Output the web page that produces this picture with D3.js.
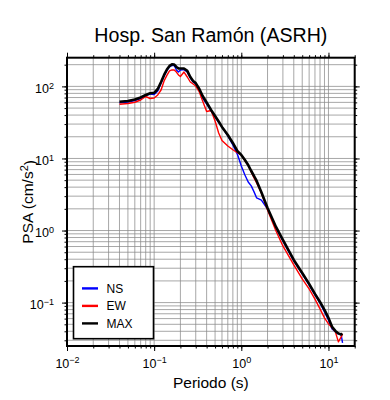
<!DOCTYPE html>
<html>
<head>
<meta charset="utf-8">
<script src="https://cdn.jsdelivr.net/npm/d3@7"></script>
<style>
  body { margin: 0; background: #fff; }
  svg { font-family: "Liberation Sans", Arial, sans-serif; }
</style>
</head>
<body>
<div id="chart"></div>
<script>
var width = 390, height = 400;

// periods (s) and spectral accelerations (cm/s^2)
var periods = [0.04, 0.05, 0.06, 0.07, 0.08, 0.09, 0.10, 0.11, 0.12, 0.13, 0.14, 0.15, 0.16, 0.17, 0.18, 0.19, 0.20,
  0.22, 0.24, 0.26, 0.28, 0.30, 0.33, 0.36, 0.40, 0.45, 0.50, 0.55, 0.60, 0.70, 0.80, 0.90,
  1.0, 1.1, 1.2, 1.3, 1.4, 1.5, 1.7, 2.0, 2.5, 3.0, 4.0, 5.0, 6.0, 7.0, 8.0, 9.0, 10, 11, 12, 13, 14, 14.5];

var ns = [59.4, 60.8, 63.7, 67.9, 73.6, 78.5, 77.2, 86.3, 111, 139, 166, 186, 196, 195, 169, 158, 169,
  171, 158, 131, 115, 108, 89.1, 69.0, 57.0, 45.6, 37.7, 31.6, 27.4, 20.5, 15.4, 11.5,
  7.87, 5.90, 4.72, 4.16, 3.44, 2.83, 2.65, 1.99, 1.09, 0.718, 0.378, 0.250, 0.176, 0.128, 0.0991, 0.0743,
  0.0575, 0.0432, 0.0393, 0.0368, 0.0356, 0.0276];

var ew = [56.5, 57.9, 60.2, 64.7, 72.4, 67.9, 69.0, 76.0, 89.1, 119, 142, 164, 169, 169, 158, 144, 137,
  158, 135, 115, 108, 101, 83.6, 62.7, 44.9, 46.3, 33.1, 22.6, 17.8, 14.9, 13.2, 12.0,
  11.2, 9.3, 8.0, 6.5, 5.36, 4.57, 3.32, 1.93, 0.986, 0.611, 0.333, 0.213, 0.155, 0.112, 0.0818, 0.0614,
  0.0507, 0.0446, 0.0393, 0.0285, 0.0334, 0.0368];

var maxv = [61.1, 62.7, 65.8, 70.2, 76.0, 80.2, 81.5, 92, 115, 144, 171, 192, 202, 201, 186, 178, 177,
  177, 164, 135, 119, 111, 92, 73.6, 59.8, 47.1, 38.8, 32.6, 27.4, 21.2, 16.4, 12.7,
  11.2, 9.5, 8.1, 6.7, 5.71, 4.88, 3.4, 2.06, 1.12, 0.741, 0.391, 0.258, 0.182, 0.132, 0.102, 0.0792,
  0.0614, 0.0461, 0.0405, 0.0374, 0.0362, 0.037];

var series = [
  { name: "NS", values: ns, color: "#0000ff", w: 1.4 },
  { name: "EW", values: ew, color: "#ff0000", w: 1.4 },
  { name: "MAX", values: maxv, color: "#000000", w: 2.6 }
];

var xDecades = [-2, -1, 0, 1];
var yDecades = [-1, 0, 1, 2];

var pLeft = 67, pRight = 354.7, pTop = 57.7, pBottom = 346;

var x = d3.scaleLog().domain([0.01, 20]).range([pLeft, pRight]);
var y = d3.scaleLog().domain([0.025, 250]).range([pBottom, pTop]);

var svg = d3.select("#chart")
  .append("svg")
  .attr("width", width)
  .attr("height", height);

function minorValues(scale, from, to) {
  var out = [];
  var dom = scale.domain();
  for (var k = from; k <= to; k++) {
    for (var m = 1; m <= 9; m++) {
      var v = m * Math.pow(10, k);
      if (v >= dom[0] * 0.999 && v <= dom[1] * 1.001) out.push(v);
    }
  }
  return out;
}

var xMinor = minorValues(x, -2, 1);
var yMinor = minorValues(y, -2, 2);
var xMajor = xDecades.map(function(k) { return Math.pow(10, k); });
var yMajor = yDecades.map(function(k) { return Math.pow(10, k); });

// grid
var grid = svg.append("g")
  .attr("stroke", "#8a8a8a")
  .attr("stroke-width", 0.75);

grid.selectAll("line.gx")
  .data(xMinor)
  .enter().append("line")
  .attr("x1", function(d) { return x(d); })
  .attr("x2", function(d) { return x(d); })
  .attr("y1", pTop)
  .attr("y2", pBottom);

grid.selectAll("line.gy")
  .data(yMinor)
  .enter().append("line")
  .attr("y1", function(d) { return y(d); })
  .attr("y2", function(d) { return y(d); })
  .attr("x1", pLeft)
  .attr("x2", pRight);

// ticks on all sides
function styleAxis(g) {
  g.select(".domain").remove();
  g.selectAll(".tick line").attr("stroke", "#000").attr("stroke-width", 1);
}

var minorAxes = [
  [d3.axisBottom(x), "translate(0," + pBottom + ")", xMinor],
  [d3.axisTop(x), "translate(0," + pTop + ")", xMinor],
  [d3.axisLeft(y), "translate(" + pLeft + ",0)", yMinor],
  [d3.axisRight(y), "translate(" + pRight + ",0)", yMinor]
];
minorAxes.forEach(function(a) {
  svg.append("g")
    .attr("transform", a[1])
    .call(a[0].tickValues(a[2]).tickSize(2.5).tickFormat(""))
    .call(styleAxis);
});

function powerLabel(d) {
  var e = Math.round(Math.log10(d));
  var t = d3.select(this).text(null);
  t.append("tspan").text("10");
  t.append("tspan")
    .attr("font-size", "9px")
    .attr("dy", "-0.5em")
    .text(e < 0 ? "\u2212" + (-e) : "" + e);
}

var xAxisB = svg.append("g")
  .attr("transform", "translate(0," + pBottom + ")")
  .call(d3.axisBottom(x).tickValues(xMajor).tickSize(5).tickPadding(8).tickFormat(""))
  .call(styleAxis);
xAxisB.selectAll(".tick text")
  .attr("font-size", "12.5px")
  .attr("font-family", "Liberation Sans, Arial, sans-serif")
  .attr("fill", "#000")
  .each(powerLabel);

svg.append("g")
  .attr("transform", "translate(0," + pTop + ")")
  .call(d3.axisTop(x).tickValues(xMajor).tickSize(5).tickFormat(""))
  .call(styleAxis);

var yAxisL = svg.append("g")
  .attr("transform", "translate(" + pLeft + ",0)")
  .call(d3.axisLeft(y).tickValues(yMajor).tickSize(5).tickPadding(8).tickFormat(""))
  .call(styleAxis);
yAxisL.selectAll(".tick text")
  .attr("font-size", "12.5px")
  .attr("font-family", "Liberation Sans, Arial, sans-serif")
  .attr("fill", "#000")
  .attr("dy", "0.5em")
  .each(powerLabel);

svg.append("g")
  .attr("transform", "translate(" + pRight + ",0)")
  .call(d3.axisRight(y).tickValues(yMajor).tickSize(5).tickFormat(""))
  .call(styleAxis);

// curves
var line = d3.line()
  .x(function(d, i) { return x(periods[i]); })
  .y(function(d) { return y(d); });

svg.append("g")
  .selectAll("path")
  .data(series)
  .enter().append("path")
  .attr("d", function(s) { return line(s.values); })
  .attr("fill", "none")
  .attr("stroke", function(s) { return s.color; })
  .attr("stroke-width", function(s) { return s.w; })
  .attr("stroke-linejoin", "round");

// frame
svg.append("rect")
  .attr("x", pLeft)
  .attr("y", pTop)
  .attr("width", pRight - pLeft)
  .attr("height", pBottom - pTop)
  .attr("fill", "none")
  .attr("stroke", "#000")
  .attr("stroke-width", 2);

// legend
var legend = svg.append("g").attr("transform", "translate(73.5,266.7)");
legend.append("rect")
  .attr("width", 80)
  .attr("height", 72)
  .attr("fill", "#fff")
  .attr("stroke", "#000")
  .attr("stroke-width", 1.6);

var item = legend.selectAll("g.item")
  .data(series)
  .enter().append("g")
  .attr("transform", function(d, i) { return "translate(0," + (21.7 + i * 17.5) + ")"; });
item.append("line")
  .attr("x1", 8.5).attr("x2", 24.5)
  .attr("stroke", function(d) { return d.color; })
  .attr("stroke-width", 2.4);
item.append("text")
  .attr("x", 33)
  .attr("y", 4.3)
  .attr("font-size", "12px")
  .text(function(d) { return d.name; });

// titles
svg.append("text")
  .attr("x", (pLeft + pRight) / 2)
  .attr("y", 42)
  .attr("text-anchor", "middle")
  .attr("font-size", "19.6px")
  .text("Hosp. San Ram\u00f3n (ASRH)");

svg.append("text")
  .attr("x", (pLeft + pRight) / 2)
  .attr("y", 388)
  .attr("text-anchor", "middle")
  .attr("font-size", "15.5px")
  .text("Periodo (s)");

var yl = svg.append("text")
  .attr("transform", "translate(33," + ((pTop + pBottom) / 2) + ") rotate(-90)")
  .attr("text-anchor", "middle")
  .attr("font-size", "15.5px");
yl.append("tspan").text("PSA (cm/s");
yl.append("tspan").attr("font-size", "11px").attr("dy", "-0.5em").text("2");
yl.append("tspan").attr("dy", "0.5em").text(")");
</script>
</body>
</html>
